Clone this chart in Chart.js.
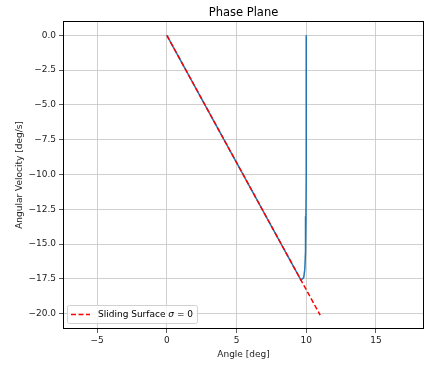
<!DOCTYPE html>
<html><head><meta charset="utf-8">
<script src="https://cdn.jsdelivr.net/npm/chart.js@4/dist/chart.umd.min.js"></script>
<style>html,body{margin:0;padding:0;background:#fff}#wrap{width:447px;height:370px}</style>
</head><body><div id="wrap"><canvas id="c" width="447" height="370"></canvas></div>
<script>
// Trajectory (angle deg, angular velocity deg/s)
const trajAngle = [10, 10, 9.98, 9.95, 9.9, 9.82, 9.62, 0];
const trajVel   = [0, -10, -13, -15.5, -16.8, -17.4, -17.58, 0];
// Sliding surface sigma = 0
const surfAngle = [0, 11];
const surfVel   = [0, -20.1];
const xTicks = [-5, 0, 5, 10, 15];
const yTicks = [0, -2.5, -5, -7.5, -10, -12.5, -15, -17.5, -20];
const titleText = 'Phase Plane';
const xLabel = 'Angle [deg]';
const yLabel = 'Angular Velocity [deg/s]';
const legendLabel = 'Sliding Surface ';

const FONT = 'DejaVu Sans';
const toPts = (xs, ys) => xs.map((x, i) => ({x, y: ys[i]}));
const fmt = (v, d) => { const s = Math.abs(v).toFixed(d); return v < 0 ? '\u2212' + s : s; };

const framePlugin = {
  id: 'frame',
  afterDraw(chart) {
    const {ctx, chartArea: a} = chart;
    ctx.save();
    ctx.strokeStyle = '#000'; ctx.lineWidth = 1;
    ctx.strokeRect(a.left + 0.5, a.top + 0.5, a.right - a.left - 1, a.bottom - a.top - 1);
    // title
    ctx.fillStyle = '#000';
    ctx.font = '11.5px "' + FONT + '"';
    ctx.textAlign = 'center'; ctx.textBaseline = 'alphabetic';
    ctx.fillText(titleText, (a.left + a.right) / 2, a.top - 5);
    // legend
    const lx = a.left + 4, ly = a.bottom - 24, lw = 130, lh = 18;
    ctx.fillStyle = 'rgba(255,255,255,0.8)';
    ctx.strokeStyle = '#d0d0d0';
    ctx.beginPath();
    if (ctx.roundRect) ctx.roundRect(lx + 0.5, ly + 0.5, lw, lh, 2); else ctx.rect(lx + 0.5, ly + 0.5, lw, lh);
    ctx.fill(); ctx.stroke();
    const cy = ly + lh / 2 + 0.5;
    ctx.strokeStyle = '#ff0000'; ctx.lineWidth = 1.5; ctx.setLineDash([5, 2.5]);
    ctx.beginPath(); ctx.moveTo(lx + 4, cy); ctx.lineTo(lx + 23, cy); ctx.stroke();
    ctx.setLineDash([]);
    ctx.fillStyle = '#000'; ctx.textAlign = 'left'; ctx.textBaseline = 'middle';
    ctx.font = '9px "' + FONT + '"';
    let tx = lx + 31;
    ctx.fillText(legendLabel, tx, cy); tx += ctx.measureText(legendLabel).width;
    ctx.font = 'italic 9px "' + FONT + '"';
    ctx.fillText('\u03c3', tx, cy); tx += ctx.measureText('\u03c3').width;
    ctx.font = '9px "' + FONT + '"';
    ctx.fillText(' = 0', tx, cy);
    ctx.restore();
  }
};

new Chart(document.getElementById('c'), {
  type: 'scatter',
  data: {
    datasets: [
      { label: 'surface', data: toPts(surfAngle, surfVel), showLine: true, borderColor: '#ff0000',
        borderWidth: 1.5, borderDash: [5, 2.5], pointRadius: 0, order: 0 },
      { label: 'traj', data: toPts(trajAngle, trajVel), showLine: true, borderColor: '#1f77b4',
        borderWidth: 1.5, pointRadius: 0, order: 1 }
    ]
  },
  options: {
    responsive: false, animation: false, devicePixelRatio: 1,
    layout: { padding: { top: 21, right: 23, left: 0, bottom: 0 } },
    plugins: { legend: { display: false }, tooltip: { enabled: false } },
    scales: {
      x: {
        type: 'linear', min: -7.45, max: 18.45,
        afterBuildTicks: ax => { ax.ticks = xTicks.map(v => ({value: v})); },
        afterFit: ax => { ax.height = 41; },
        ticks: { callback: v => fmt(v, 0), color: '#222', font: { family: FONT, size: 9 }, padding: 2, maxRotation: 0 },
        grid: { color: '#c4c4c4', lineWidth: 0.8, tickLength: 4, tickColor: '#333' },
        border: { display: false },
        title: { display: true, text: xLabel, color: '#222', font: { family: FONT, size: 9 }, padding: { top: 2, bottom: 10 } }
      },
      y: {
        type: 'linear', min: -21.1, max: 1.03,
        afterBuildTicks: ax => { ax.ticks = yTicks.map(v => ({value: v})); },
        afterFit: ax => { ax.width = 63; },
        ticks: { callback: v => fmt(v, 1), color: '#222', font: { family: FONT, size: 9 }, padding: 3 },
        grid: { color: '#c4c4c4', lineWidth: 0.8, tickLength: 4, tickColor: '#333' },
        border: { display: false },
        title: { display: true, text: yLabel, color: '#222', font: { family: FONT, size: 9 }, padding: { bottom: 0, top: 14 } }
      }
    }
  },
  plugins: [framePlugin]
});
</script>
</body></html>
